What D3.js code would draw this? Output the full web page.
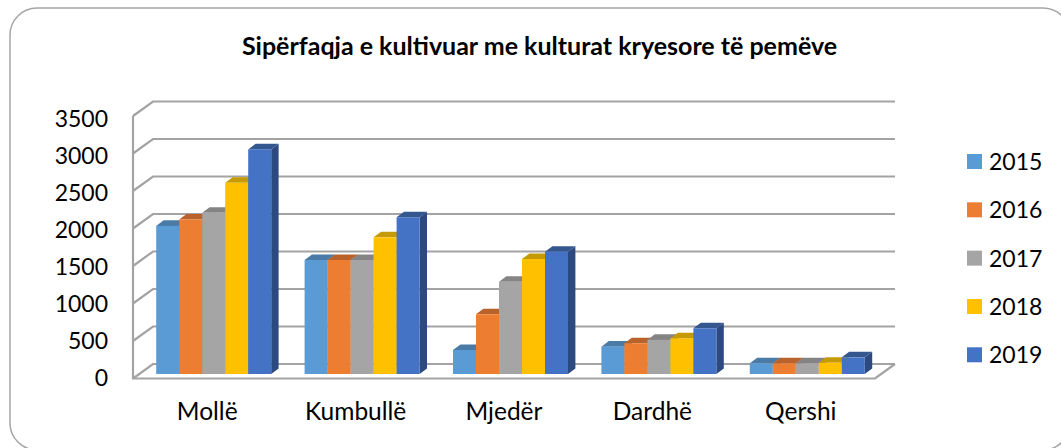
<!DOCTYPE html>
<html>
  <head>
    <meta http-equiv="Content-Type" content="text/html;charset=utf-8"/>
    <title>Sipërfaqja e kultivuar</title>
    <script src="https://d3js.org/d3.v7.min.js"></script>
    <style>
      html, body { margin: 0; padding: 0; background: #fff; overflow: hidden; }
      svg { display: block; }
      text { font-family: Lato, sans-serif; fill: #000; }
    </style>
  </head>
  <body>
    <div id="content"></div>
    <script type="text/javascript">
      const title = 'Sipërfaqja e kultivuar me kulturat kryesore të pemëve'
      const categories = ['Mollë', 'Kumbullë', 'Mjedër', 'Dardhë', 'Qershi']
      const years = ['2015', '2016', '2017', '2018', '2019']
      const yTicks = [0, 500, 1000, 1500, 2000, 2500, 3000, 3500]

      const values2015 = [1975, 1520, 320, 365, 143]
      const values2016 = [2060, 1520, 796, 410, 143]
      const values2017 = [2150, 1520, 1230, 455, 143]
      const values2018 = [2550, 1822, 1533, 475, 150]
      const values2019 = [2995, 2090, 1630, 610, 222]
      const seriesValues = [values2015, values2016, values2017, values2018, values2019]

      const fronts = ['#5b9bd5', '#ed7d31', '#a5a5a5', '#ffc000', '#4472c4']
      const tops = ['#4a7ba6', '#b9622b', '#848484', '#c69a06', '#35578f']
      const sides = ['#3f6d9a', '#a95422', '#757575', '#b08800', '#2c4a80']

      const width = 1061, height = 448
      const wallDx = 20, wallDy = -14.5
      const barDx = 7.4, barDy = -5.6
      const grey = '#a3a3a3'

      const svg = d3.select('#content').append('svg').attr('width', width).attr('height', height)

      svg.append('rect')
        .attr('x', 10).attr('y', 8)
        .attr('width', 1060).attr('height', 442)
        .attr('rx', 27).attr('ry', 27)
        .attr('fill', '#fff')
        .attr('stroke', '#a6a6a6')
        .attr('stroke-width', 1.5)

      svg.append('text')
        .attr('x', 539.5).attr('y', 55)
        .attr('text-anchor', 'middle')
        .attr('font-size', 25)
        .attr('font-weight', 700)
        .text(title)

      const yScale = d3.scaleLinear().domain([0, 3500]).range([378.5, 116])
      const yLabelScale = d3.scaleLinear().domain([0, 3500]).range([378, 119])
      const xScale = d3.scaleBand().domain(categories).range([133, 875])
      const barScale = d3.scaleBand().domain(categories).range([139.5, 881.5]).paddingInner(0.225).paddingOuter(0.1125)
      const yearScale = d3.scaleBand().domain(years).range([0, barScale.bandwidth()])

      // back wall, side wall and floor
      const x0 = xScale.range()[0], x1 = xScale.range()[1]
      const grid = svg.append('g').attr('fill', 'none').attr('stroke', grey).attr('stroke-width', 2.2)

      grid.selectAll('path.tick')
        .data(yTicks)
        .enter()
        .append('path')
        .attr('d', d => 'M' + x0 + ',' + yScale(d) + 'L' + (x0 + wallDx) + ',' + (yScale(d) + wallDy) + 'L' + (x1 + wallDx) + ',' + (yScale(d) + wallDy))

      grid.append('path')
        .attr('d', 'M' + x0 + ',' + yScale(3500) + 'L' + x0 + ',' + yScale(0) + 'L' + x1 + ',' + yScale(0) + 'L' + (x1 + wallDx) + ',' + (yScale(0) + wallDy))

      // bars, drawn left to right so each front covers the previous side
      const barBase = yScale(0) - 4.5
      const bars = []
      categories.forEach((c, i) => {
        years.forEach((yr, j) => {
          bars.push({ cat: c, year: yr, idx: j, value: seriesValues[j][i] })
        })
      })

      const barG = svg.append('g').selectAll('g')
        .data(bars)
        .enter()
        .append('g')
        .attr('transform', d => 'translate(' + (barScale(d.cat) + yearScale(d.year)) + ',' + (barBase - yScale(0)) + ')')

      const w = yearScale.bandwidth()

      barG.append('path')
        .attr('fill', d => sides[d.idx])
        .attr('d', d => 'M' + w + ',' + yScale(d.value) + 'l' + barDx + ',' + barDy + 'L' + (w + barDx) + ',' + (yScale(0) + barDy) + 'L' + w + ',' + yScale(0) + 'Z')

      barG.append('path')
        .attr('fill', d => tops[d.idx])
        .attr('d', d => 'M0,' + yScale(d.value) + 'l' + barDx + ',' + barDy + 'h' + w + 'l' + (-barDx) + ',' + (-barDy) + 'Z')

      barG.append('rect')
        .attr('x', 0)
        .attr('y', d => yScale(d.value))
        .attr('width', w)
        .attr('height', d => yScale(0) - yScale(d.value))
        .attr('fill', d => fronts[d.idx])

      // axes
      const yAxis = d3.axisLeft(yLabelScale).tickValues(yTicks).tickSize(0).tickPadding(0).tickFormat(d3.format('d'))
      const yG = svg.append('g').attr('transform', 'translate(108,0)').call(yAxis)
      yG.select('.domain').remove()
      yG.selectAll('text').attr('font-size', 23).attr('font-family', 'Lato, sans-serif')

      const xAxis = d3.axisBottom(xScale).tickSize(0).tickPadding(0)
      const xG = svg.append('g').attr('transform', 'translate(0,403)').call(xAxis)
      xG.select('.domain').remove()
      xG.selectAll('text').attr('font-size', 24.5).attr('font-family', 'Lato, sans-serif')

      // legend
      const legendScale = d3.scalePoint().domain(years).range([161.5, 354.8])
      const legend = svg.append('g').selectAll('g')
        .data(years)
        .enter()
        .append('g')
        .attr('transform', d => 'translate(967,' + legendScale(d) + ')')

      legend.append('rect')
        .attr('x', 0).attr('y', -7.5)
        .attr('width', 15).attr('height', 15)
        .attr('fill', (d, i) => fronts[i])

      legend.append('text')
        .attr('x', 22).attr('y', 8.5)
        .attr('font-size', 23)
        .text(d => d)
    </script>
  </body>
</html>
